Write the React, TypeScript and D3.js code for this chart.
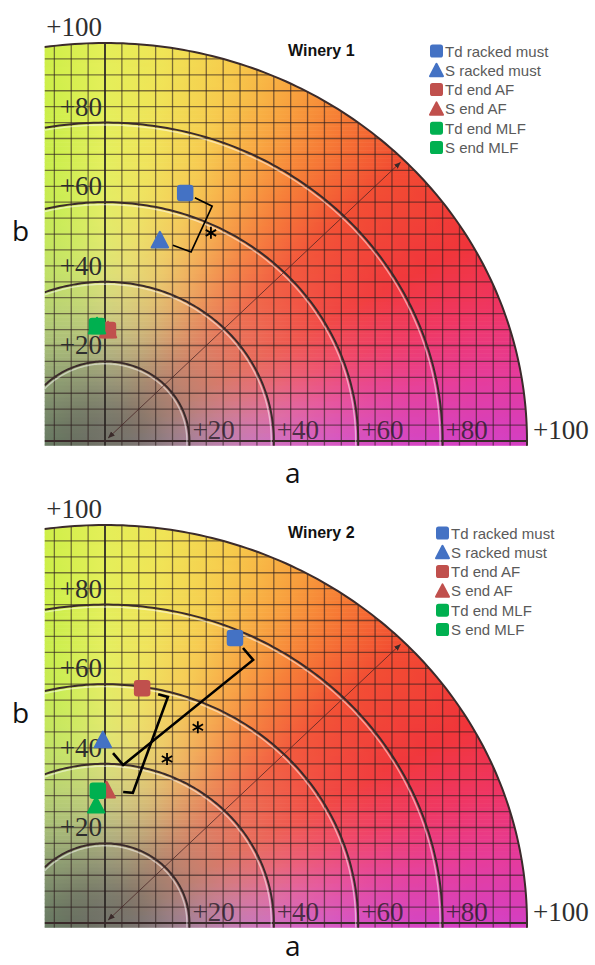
import React from 'react';
import * as d3 from 'd3';

// ---------- data ----------
const seriesNames = ['Td racked must', 'S racked must', 'Td end AF', 'S end AF', 'Td end MLF', 'S end MLF'];
const seriesColors = ['#4472C4', '#4472C4', '#C0504D', '#C0504D', '#00B050', '#00B050'];
const legendShapes = ['square', 'triangle', 'square', 'triangle', 'square', 'square'];
const plotShapes = ['square', 'triangle', 'square', 'triangle', 'square', 'triangle'];

const winery1A = [19.0, 13.0, 0.7, 0.7, -1.9, -1.9];
const winery1B = [62.3, 50.5, 27.9, 27.9, 28.9, 28.9];
const winery2A = [30.8, -0.5, 8.8, 0.4, -1.7, -2.1];
const winery2B = [71.6, 46.0, 59.0, 33.4, 33.2, 29.6];

// significance brackets (a, b) points
const winery1Brackets = [[[21.3, 61.1], [25.4, 59.0], [20.4, 47.5], [16.1, 49.2]]];
const winery1Stars = [[25.1, 52.3]];
const winery2Brackets = [
  [[32.7, 69.1], [35.1, 66.1], [4.3, 39.7], [1.9, 42.7]],
  [[12.6, 57.5], [14.9, 56.8], [6.6, 32.7], [4.3, 32.9]],
];
const winery2Stars = [[22.0, 49.2], [14.7, 41.2]];

const titles = ['Winery 1', 'Winery 2'];
const chromaRings = [20, 40, 60, 80];
const bTicks = [20, 40, 60, 80, 100];
const aTicks = [20, 40, 60, 80, 100];

// ---------- colour model for the a*b* plane ----------
const hueAngles = [0, 10, 20, 30, 45, 55, 63, 72, 82, 90, 100, 120, 180];
const hueColors = ['#d43fc2', '#e63a9a', '#ef3462', '#f0343a', '#f24c32', '#f67a34', '#f8a23e', '#f7ca4c', '#f0e456', '#e4ef58', '#caef46', '#a8e040', '#50a060'];
const hueScale = d3.scaleLinear<string>().domain(hueAngles).range(hueColors).interpolate(d3.interpolateRgb).clamp(true);
const grey = '#74746a';
function planeColor(a: number, b: number) {
  const r = Math.sqrt(a * a + b * b);
  const ang = (Math.atan2(Math.max(b, 0), a) * 180) / Math.PI;
  const f = 1 - Math.exp(-Math.pow(r / 37, 1.8));
  const base = a < 0 ? d3.interpolateRgb(grey, '#5e6656')(Math.min(1, -a / 14) * Math.max(0, 1 - b / 25)) : grey;
  const c = d3.lab(d3.interpolateLab(base, hueScale(ang))(f));
  c.l += 40 * f * (1 - f) * Math.min(1, r / 15);
  return c.formatHex();
}

const A_MIN = -14.3;
const B_MIN = -1.2;
const PANEL_DY = 482;

function App() {
  const x = d3.scaleLinear().domain([0, 100]).range([105, 527]);
  const rows = d3.range(-2, 100, 1);
  const stopsA = d3.range(-16, 101, 2);

  const panels = [
    { title: titles[0], A: winery1A, B: winery1B, brackets: winery1Brackets, stars: winery1Stars, dy: 0, legDx: 0, bw: 1.6, aY: 483 },
    { title: titles[1], A: winery2A, B: winery2B, brackets: winery2Brackets, stars: winery2Stars, dy: PANEL_DY, legDx: 6, bw: 2.6, aY: 956 },
  ];

  return (
    <svg width={595} height={965} style={{ position: 'absolute', left: 0, top: 0, background: '#fff' }}>
      <defs>
        {rows.map((b, i) => (
          <linearGradient key={i} id={`row${i}`} gradientUnits="userSpaceOnUse" x1={x(-16)} x2={x(100)} y1={0} y2={0}>
            {stopsA.map((a, j) => (
              <stop key={j} offset={(a + 16) / 116} stopColor={planeColor(a, b + 0.5)} />
            ))}
          </linearGradient>
        ))}
        <marker id="arrowhead" viewBox="0 0 10 10" refX="9" refY="5" markerWidth="7" markerHeight="7" orient="auto-start-reverse">
          <path d="M0,1 L10,5 L0,9 z" fill="#3a2a2a" />
        </marker>
      </defs>
      {panels.map((p, pi) => {
        const y = d3.scaleLinear().domain([0, 100]).range([441 + p.dy, 43 + p.dy]);
        const topB = Math.sqrt(100 * 100 - A_MIN * A_MIN);
        const t0 = Math.acos(A_MIN / 100);
        const outer = d3.range(0, 101).map((k) => {
          const t = t0 - (t0 * k) / 100;
          return [x(100 * Math.cos(t)), y(100 * Math.sin(t))] as [number, number];
        });
        const regionPath =
          `M${x(A_MIN)},${y(B_MIN)} L${x(A_MIN)},${y(topB)} ` +
          outer.map((pt) => `L${pt[0]},${pt[1]}`).join(' ') +
          ` L${x(100)},${y(B_MIN)} Z`;
        const line = d3.line<[number, number]>().x((d) => x(d[0])).y((d) => y(d[1]));
        const arcPts = (r: number) => {
          const ts = Math.acos(Math.max(-1, A_MIN / r));
          const pts = d3.range(0, 121).map((k) => {
            const t = ts - (ts * k) / 120;
            return [r * Math.cos(t), r * Math.sin(t)] as [number, number];
          });
          pts.push([r, B_MIN]);
          return pts;
        };
        const clipId = `clip${pi}`;
        const diag = 70;
        const legX = 430 + p.legDx;
        const legY0 = 51 + p.dy;
        const legStep = 19.3;
        const marker = (shape: string, cx: number, cy: number, s: number, color: string, key: string) =>
          shape === 'square' ? (
            <rect key={key} x={cx - s / 2} y={cy - s / 2} width={s} height={s} rx={s * 0.2} fill={color} />
          ) : (
            <path
              key={key}
              d={`M${cx},${cy - s * 0.5} L${cx + s * 0.5},${cy + s * 0.45} L${cx - s * 0.5},${cy + s * 0.45} Z`}
              fill={color}
              stroke={color}
              strokeWidth={2}
              strokeLinejoin="round"
            />
          );
        return (
          <g key={pi}>
            <clipPath id={clipId}>
              <path d={regionPath} />
            </clipPath>
            <g clipPath={`url(#${clipId})`}>
              {rows.map((b, i) => (
                <rect key={i} x={x(-16)} y={y(b + 1) - 0.3} width={x(100) - x(-16)} height={y(b) - y(b + 1) + 0.6} fill={`url(#row${i})`} />
              ))}
              {d3.range(-12, 101, 4).map((a) => (
                <line key={`v${a}`} x1={x(a)} x2={x(a)} y1={y(B_MIN)} y2={y(101)} stroke={a === 0 ? '#2e2a26' : 'rgba(45,30,30,0.6)'} strokeWidth={a === 0 ? 1.8 : 1.3} />
              ))}
              {d3.range(4, 101, 4).map((b) => (
                <line key={`h${b}`} x1={x(A_MIN)} x2={x(100)} y1={y(b)} y2={y(b)} stroke="rgba(45,30,30,0.6)" strokeWidth={1.3} />
              ))}
              <line x1={x(A_MIN)} x2={x(100)} y1={y(0)} y2={y(0)} stroke="#3a2a2a" strokeWidth={1.8} />
              {chromaRings.map((r) => (
                <path key={`hl${r}`} d={line(arcPts(r - 0.6)) || ''} fill="none" stroke="rgba(255,255,255,0.5)" strokeWidth={1.4} />
              ))}
              {chromaRings.map((r) => (
                <path key={`ring${r}`} d={line(arcPts(r)) || ''} fill="none" stroke="#3b2b2b" strokeWidth={2} />
              ))}
              <line
                x1={x(0.8)}
                y1={y(0.8)}
                x2={x(diag)}
                y2={y(diag)}
                stroke="rgba(70,35,35,0.75)"
                strokeWidth={1}
                markerStart="url(#arrowhead)"
                markerEnd="url(#arrowhead)"
              />
            </g>
            <path d={line(arcPts(100)) || ''} fill="none" stroke="#3b2b2b" strokeWidth={2} />

            {/* b tick labels */}
            {bTicks.map((b) => (
              <text key={`bt${b}`} x={x(0) - 3} y={y(b) - 7} textAnchor="end" fontFamily="Liberation Serif" fontSize={27} fill="#2e2e2e">
                +{b}
              </text>
            ))}
            {/* a tick labels */}
            {aTicks.map((a) => (
              <text key={`at${a}`} x={x(a) + (a === 100 ? 6 : 3)} y={y(0) - 2} fontFamily="Liberation Serif" fontSize={27} fill={a === 100 ? '#2e2e2e' : 'rgba(40,30,40,0.8)'}>
                +{a}
              </text>
            ))}

            {/* axis letters */}
            <text x={12} y={241 + p.dy} fontFamily="Open Sans" fontSize={28} fill="#111">b</text>
            <text x={285} y={p.aY} fontFamily="Open Sans" fontSize={28} fill="#111">a</text>

            {/* title */}
            <text x={288} y={56 + p.dy} fontFamily="Liberation Sans" fontWeight="bold" fontSize={16} fill="#111">
              {p.title}
            </text>

            {/* legend */}
            {seriesNames.map((name, i) => (
              <g key={`leg${i}`}>
                {marker(legendShapes[i], legX + 6.5, legY0 + i * legStep, 13, seriesColors[i], `lm${i}`)}
                <text x={legX + 15} y={legY0 + i * legStep + 5.5} fontFamily="Liberation Sans" fontSize={15} fill="#5a5a5a">
                  {name}
                </text>
              </g>
            ))}

            {/* brackets */}
            {p.brackets.map((br, k) => (
              <path key={`br${k}`} d={line(br as [number, number][]) || ''} fill="none" stroke="#000" strokeWidth={p.bw} strokeLinejoin="miter" />
            ))}
            {p.stars.map((s, k) => {
              const cx = x(s[0]);
              const cy = y(s[1]);
              const r = 6;
              const d = [90, 30, 150]
                .map((deg) => {
                  const t = (deg * Math.PI) / 180;
                  return `M${cx - r * Math.cos(t)},${cy - r * Math.sin(t)} L${cx + r * Math.cos(t)},${cy + r * Math.sin(t)}`;
                })
                .join(' ');
              return <path key={`st${k}`} d={d} stroke="#000" strokeWidth={1.8} />;
            })}

            {/* data points */}
            {seriesNames.map((_, i) =>
              marker(plotShapes[i], x(p.A[i]), y(p.B[i]), 16.5, seriesColors[i], `pt${i}`)
            )}
          </g>
        );
      })}
    </svg>
  );
}

export default App;
